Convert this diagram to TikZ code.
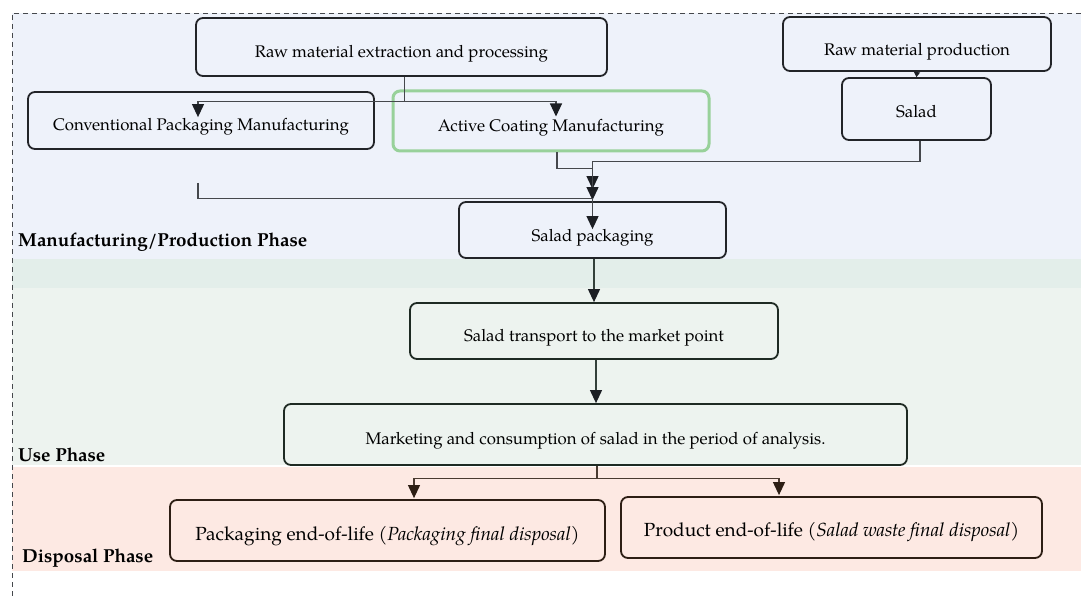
\documentclass[tikz,border=0pt]{standalone}
\usepackage{fontspec}
\setmainfont{TeX Gyre Pagella}
\usetikzlibrary{arrows.meta,calc}
\definecolor{bgblue}{HTML}{EEF2FA}
\definecolor{bgband}{HTML}{E3EEEA}
\definecolor{bggreen}{HTML}{EDF3EF}
\definecolor{bgpink}{HTML}{FDE9E3}
\definecolor{gborder}{HTML}{98D19A}
\definecolor{boxline}{HTML}{222428}
\definecolor{greenline}{HTML}{1E2A23}
\definecolor{brownline}{HTML}{2D1E14}
\definecolor{conline}{HTML}{45484C}
\definecolor{arrowc}{HTML}{1C1F24}
\definecolor{gconline}{HTML}{33403A}
\definecolor{bconline}{HTML}{4A3A30}
\newcommand\dn[2]{\raisebox{0pt}[\dimexpr\height+#1\relax][\depth]{#2}}
\tikzset{
  box/.style={draw=boxline, line width=1.8pt, rounded corners=7pt, align=center, inner sep=0pt},
  gbox/.style={box, draw=gborder, line width=3pt},
  conn/.style={draw=conline, line width=1.1pt},
  arr/.style={conn, -{Triangle[length=13pt,width=12pt,color=arrowc]}},
  barr/.style={conn, draw=bconline, -{Triangle[length=13pt,width=12pt,color=brownline]}},
  sarr/.style={conn, -{Triangle[length=5pt,width=6pt,color=arrowc]}},
  phase/.style={anchor=base west, inner sep=0pt, font=\fontsize{18.8}{22}\selectfont\bfseries},
  fa/.style={font=\fontsize{16.8}{20}\selectfont},
  fd/.style={font=\fontsize{19}{22}\selectfont},
}
\begin{document}
\begin{tikzpicture}[x=1pt,y=-1pt]
\useasboundingbox (0,0) rectangle (1081,596);
% backgrounds
\fill[bgblue] (12,13) rectangle (1081,259);
\fill[bgband] (12,259) rectangle (1081,288);
\fill[bggreen] (12,288) rectangle (1081,465);
\fill[bgpink] (12,467) rectangle (1081,571);
\draw[line width=0.8pt, draw=conline, dash pattern=on 5pt off 4pt] (1081,13) -- (12,13) -- (12,596);
% phase labels
\node[phase] (lab1) at (18,246) {Manufacturing/Production Phase};
\node[phase] (lab2) at (18,461) {Use Phase};
\node[phase] (lab3) at (22,562) {Disposal Phase};
% nodes
\node[box, fa, minimum width=411pt, minimum height=58pt] (rawx) at (401.5,47) {\dn{14pt}{Raw material extraction and processing}};
\node[box, fa, minimum width=346pt, minimum height=57pt] (conv) at (201,120.5) {\dn{13pt}{Conventional Packaging Manufacturing}};
\node[gbox, fa, minimum width=316pt, minimum height=60pt] (act) at (551,121) {\dn{14pt}{Active Coating Manufacturing}};
\node[box, fa, minimum width=268pt, minimum height=54pt] (rawp) at (917,44) {\dn{16pt}{Raw material production}};
\node[box, fa, minimum width=149pt, minimum height=62pt] (salad) at (916.5,109) {\dn{6pt}{Salad}};
\node[box, fa, minimum width=267pt, minimum height=56pt] (pkg) at (592.5,230) {\dn{16pt}{Salad packaging}};
\node[box, fa, draw=greenline, minimum width=368pt, minimum height=56pt] (trans) at (594,331) {\dn{14pt}{Salad transport to the market point}};
\node[box, fa, draw=greenline, minimum width=623pt, minimum height=61pt] (mkt) at (595.5,434.5) {\dn{12pt}{Marketing and consumption of salad in the period of analysis.}};
\node[box, fd, draw=brownline, minimum width=435pt, minimum height=61pt] (peol) at (387.5,530.5) {\dn{11pt}{Packaging end-of-life (\textit{Packaging final disposal})}};
\node[box, fd, draw=brownline, minimum width=421pt, minimum height=61pt] (deol) at (831.5,527.5) {\dn{9pt}{Product end-of-life (\textit{Salad waste final disposal})}};
% connectors
\coordinate (j1) at ($(rawx.south)+(3,25)$);
\draw[conn] ($(rawx.south)+(3,0)$) -- (j1);
\draw[arr] (j1) -| ($(conv.north)+(-3,26)$);
\draw[arr] (j1) -| ($(act.north)+(5,27)$);
\coordinate (j2) at ($(pkg.north)+(0,-33)$);
\coordinate (j3) at ($(pkg.north)+(0,-40)$);
\coordinate (j5) at ($(pkg.north)+(0,-3)$);
\draw[arr] ($(act.south)+(6,0)$) |- (j2) -- ($(pkg.north)+(0,-12)$);
\draw[arr] ($(salad.south)+(3.5,0)$) |- (j3) -- ($(pkg.north)+(0,-1)$);
\draw[arr] ($(conv.south)+(-3,33)$) |- (j5) -- ($(pkg.north)+(0,28)$);
\draw[sarr] (rawp.south) -- (salad.north);
\draw[arr, draw=gconline] (pkg.south -| trans.north) -- (trans.north);
\draw[arr, draw=gconline] ($(trans.south)+(2,0)$) -- ($(trans.south |- mkt.north)+(2,0)$);
\coordinate (j4) at ($(mkt.south)+(1.5,13)$);
\draw[conn, draw=bconline] ($(mkt.south)+(1.5,0)$) -- (j4);
\draw[barr] (j4) -| ($(peol.north)+(26.5,-1)$);
\draw[barr] (j4) -| ($(deol.north)+(-52.5,-1)$);
\end{tikzpicture}
\end{document}
